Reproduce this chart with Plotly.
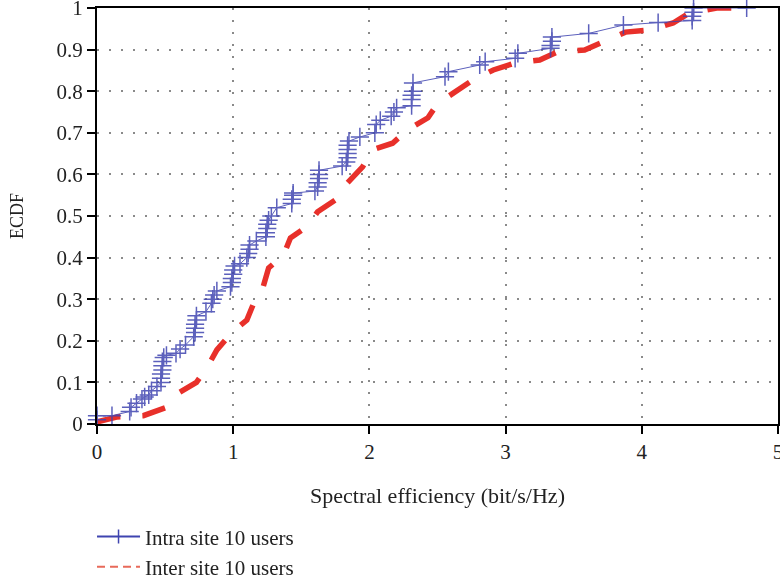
import plotly.graph_objects as go

# Intra site 10 users (blue, ECDF points)
intra_x = [0.00, 0.00, 0.11, 0.24, 0.25, 0.29, 0.33, 0.35, 0.38, 0.40, 0.44,
           0.47, 0.47, 0.47, 0.48, 0.48, 0.48, 0.49, 0.51, 0.58, 0.61, 0.65,
           0.71, 0.72, 0.72, 0.72, 0.73, 0.73, 0.80, 0.84, 0.85, 0.86, 0.88,
           0.98, 0.99, 0.99, 1.00, 1.00, 1.01, 1.05, 1.10, 1.11, 1.12, 1.12,
           1.17, 1.24, 1.24, 1.25, 1.25, 1.26, 1.28, 1.32, 1.43, 1.43, 1.44,
           1.44, 1.60, 1.62, 1.62, 1.63, 1.63, 1.63, 1.80, 1.83, 1.84, 1.84,
           1.84, 1.84, 1.85, 1.93, 2.04, 2.05, 2.08, 2.16, 2.18, 2.20, 2.31,
           2.31, 2.31, 2.32, 2.32, 2.555, 2.58, 2.81, 2.85, 3.07, 3.09, 3.33,
           3.33, 3.34, 3.34, 3.61, 3.865, 4.12, 4.37, 4.37, 4.38, 4.38, 4.77]
intra_y = [0.01, 0.02, 0.02, 0.03, 0.04, 0.05, 0.06, 0.065, 0.07, 0.08, 0.09,
           0.10, 0.11, 0.12, 0.13, 0.14, 0.15, 0.16, 0.165, 0.17, 0.18, 0.19,
           0.21, 0.22, 0.23, 0.24, 0.25, 0.26, 0.27, 0.29, 0.30, 0.31, 0.32,
           0.33, 0.34, 0.35, 0.36, 0.37, 0.38, 0.385, 0.40, 0.41, 0.42, 0.43,
           0.44, 0.45, 0.46, 0.47, 0.48, 0.49, 0.50, 0.52, 0.53, 0.54, 0.55,
           0.555, 0.56, 0.57, 0.58, 0.59, 0.60, 0.61, 0.62, 0.63, 0.64, 0.65,
           0.66, 0.67, 0.68, 0.69, 0.70, 0.72, 0.73, 0.74, 0.75, 0.76, 0.765,
           0.78, 0.79, 0.80, 0.82, 0.835, 0.847, 0.863, 0.871, 0.879, 0.891, 0.903,
           0.91, 0.92, 0.93, 0.939, 0.959, 0.965, 0.97, 0.98, 0.99, 1.00, 1.00]

# Inter site 10 users (red dashed curve)
inter_x = [0.00, 0.15, 0.34, 0.51, 0.60, 0.66, 0.73, 0.81, 0.88, 0.99, 1.10,
           1.15, 1.22, 1.26, 1.37, 1.42, 1.54, 1.62, 1.77, 1.84, 1.95, 2.02,
           2.17, 2.28, 2.43, 2.50, 2.64, 2.76, 2.91, 3.07, 3.25, 3.38, 3.58,
           3.72, 3.88, 4.06, 4.23, 4.35, 4.55, 4.73]
inter_y = [0.005, 0.017, 0.020, 0.040, 0.075, 0.085, 0.100, 0.137, 0.178, 0.220, 0.250,
           0.290, 0.330, 0.375, 0.406, 0.447, 0.474, 0.510, 0.543, 0.580, 0.618, 0.659,
           0.675, 0.707, 0.736, 0.770, 0.800, 0.827, 0.851, 0.868, 0.875, 0.894, 0.899,
           0.918, 0.942, 0.947, 0.964, 0.988, 1.000, 1.000]

x_ticks = [0, 1, 2, 3, 4, 5]
y_ticks = [0, 0.1, 0.2, 0.3, 0.4, 0.5, 0.6, 0.7, 0.8, 0.9, 1]
y_tick_text = ["0", "0.1", "0.2", "0.3", "0.4", "0.5", "0.6", "0.7", "0.8", "0.9", "1"]

BLUE = "#3f44b0"
RED = "#e8302a"
FONT = "Liberation Serif"
TXT = "#222222"

fig = go.Figure()
fig.add_trace(go.Scatter(
    x=inter_x, y=inter_y, mode="lines", showlegend=False,
    line=dict(color=RED, width=5.5, dash="24px,22px"),
    cliponaxis=False))
fig.add_trace(go.Scatter(
    x=intra_x, y=intra_y, mode="lines+markers", showlegend=False,
    line=dict(color=BLUE, width=1),
    marker=dict(symbol="cross-thin-open", size=13, line=dict(color=BLUE, width=1.5)),
    opacity=0.85, cliponaxis=False))
# legend entries
fig.add_trace(go.Scatter(
    x=[None], y=[None], mode="lines+markers", name="Intra site 10 users",
    line=dict(color=BLUE, width=2),
    marker=dict(symbol="line-ns-open", size=10, line=dict(color=BLUE, width=1.5))))
fig.add_trace(go.Scatter(
    x=[None], y=[None], mode="lines", name="Inter site 10 users",
    line=dict(color="#e86a5a", width=2, dash="8px,5px")))

axis_common = dict(
    showline=True, linecolor="black", linewidth=2, mirror=True,
    ticks="outside", ticklen=8, tickwidth=2, tickcolor="black",
    showgrid=True, gridcolor="#8a8a8a", gridwidth=2, griddash="2px,10px",
    zeroline=False, ticklabeloverflow="allow",
    tickfont=dict(family=FONT, size=21, color=TXT),
)

fig.update_xaxes(range=[0, 5], tickvals=x_ticks, ticktext=[str(v) for v in x_ticks],
                 title=dict(text="Spectral efficiency (bit/s/Hz)", standoff=24,
                            font=dict(family=FONT, size=22, color=TXT)),
                 **axis_common)
fig.update_yaxes(range=[0, 1], tickvals=y_ticks, ticktext=y_tick_text,
                 title=dict(text="ECDF", standoff=28,
                            font=dict(family=FONT, size=18, color=TXT)),
                 **axis_common)

fig.update_layout(
    width=780, height=584,
    margin=dict(l=97, r=2, t=8, b=160, autoexpand=False),
    plot_bgcolor="white", paper_bgcolor="white",
    font=dict(family=FONT, size=20, color=TXT),
    legend=dict(x=-0.0073, y=-0.222, xanchor="left", yanchor="top",
                font=dict(family=FONT, size=21, color=TXT),
                bgcolor="rgba(0,0,0,0)", tracegroupgap=0, itemwidth=43),
)

fig.write_html("out.html")
